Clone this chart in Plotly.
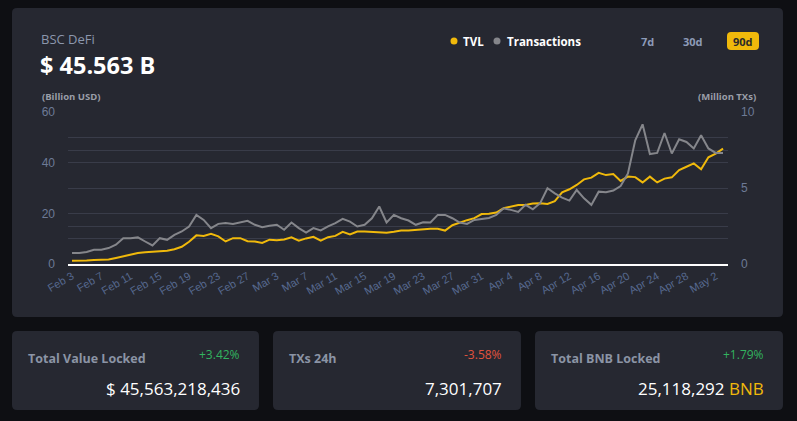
import plotly.graph_objects as go
import pandas as pd

# ---------------- data ----------------
dates = pd.date_range("2021-02-03", "2021-05-03", freq="D").strftime("%Y-%m-%d").tolist()

tvl_billion_usd = [
    1.3, 1.3, 1.4, 1.6, 1.7, 1.8, 2.4, 3.0, 3.9, 4.3,
    4.6, 4.7, 4.8, 5.2, 5.8, 6.8, 8.8, 11.3, 11.1, 11.9,
    10.9, 8.9, 10.2, 10.2, 9.0, 8.9, 8.3, 9.6, 9.4, 9.7,
    10.5, 9.2, 10.1, 10.7, 9.2, 10.6, 11.1, 12.7, 11.7, 12.8,
    12.8, 12.6, 12.3, 12.3, 12.7, 13.2, 13.2, 13.4, 13.8, 13.9,
    13.9, 13.2, 15.3, 16.4, 17.3, 18.1, 19.7, 19.8, 20.3, 22.0,
    22.7, 23.3, 23.3, 23.9, 24.0, 23.7, 24.8, 28.3, 29.5, 31.2,
    33.4, 34.1, 36.0, 35.1, 35.5, 32.8, 34.5, 34.3, 32.2, 34.5,
    32.2, 33.7, 34.2, 37.1, 38.4, 39.7, 37.4, 42.1, 43.6, 45.563,
]

tx_million = [
    0.72, 0.72, 0.79, 0.94, 0.94, 1.05, 1.27, 1.70, 1.70, 1.75,
    1.48, 1.22, 1.70, 1.59, 1.92, 2.14, 2.47, 3.23, 2.90, 2.36,
    2.64, 2.69, 2.64, 2.73, 2.84, 2.58, 2.42, 2.51, 2.58, 2.25,
    2.73, 2.36, 2.07, 2.36, 2.21, 2.47, 2.69, 2.97, 2.79, 2.47,
    2.58, 3.01, 3.78, 2.73, 3.23, 3.01, 2.86, 2.58, 2.75, 2.73,
    3.23, 3.23, 3.01, 2.73, 2.64, 2.90, 2.97, 3.03, 3.23, 3.67,
    3.56, 3.43, 3.89, 3.60, 4.00, 4.98, 4.65, 4.37, 4.17, 4.87,
    4.32, 3.89, 4.76, 4.72, 4.83, 5.13, 5.96, 8.14, 9.19, 7.23,
    7.31, 8.62, 7.27, 8.21, 8.03, 7.60, 8.47, 7.60, 7.31, 7.30,
]

left_tickvals = [0, 10, 20, 30, 40, 50, 60]
left_ticktext = ["0", "", "20", "", "40", "", "60"]
right_tickvals = [0, 2.5, 5, 7.5, 10]
right_ticktext = ["0", "", "5", "", "10"]

stats_titles = ["Total Value Locked", "TXs 24h", "Total BNB Locked"]
stats_changes = ["+3.42%", "-3.58%", "+1.79%"]
stats_values = ["$ 45,563,218,436", "7,301,707", "25,118,292"]

# ---------------- geometry helpers ----------------
W, H = 797, 421
ML, MR, MT, MB = 68, 69, 112, 157
PW = W - ML - MR
PH = H - MT - MB

def fx(x):
    return (x - ML) / PW

def fy(y):
    return 1 - (y - MT) / PH

def rrect(x0, y0, x1, y1, r):
    pts = [
        ("M", [(x0 + r, y0)]), ("L", [(x1 - r, y0)]), ("Q", [(x1, y0), (x1, y0 + r)]),
        ("L", [(x1, y1 - r)]), ("Q", [(x1, y1), (x1 - r, y1)]),
        ("L", [(x0 + r, y1)]), ("Q", [(x0, y1), (x0, y1 - r)]),
        ("L", [(x0, y0 + r)]), ("Q", [(x0, y0), (x0 + r, y0)]),
    ]
    s = ""
    for cmd, ps in pts:
        s += cmd + " " + " ".join(f"{fx(a):.5f},{fy(b):.5f}" for a, b in ps) + " "
    return s + "Z"

BG = "#0e0f13"
CARD = "#262831"
GRID = "#393c49"
YELLOW = "#f0b90b"
GRAY = "#85868b"
FONT = "Open Sans"

fig = go.Figure()

fig.add_trace(go.Scatter(
    x=dates, y=tvl_billion_usd, name="TVL", mode="lines",
    line=dict(color=YELLOW, width=2), yaxis="y",
))
fig.add_trace(go.Scatter(
    x=dates, y=tx_million, name="Transactions", mode="lines",
    line=dict(color=GRAY, width=2), yaxis="y2",
))

shapes = []
# main card and stat cards
shapes.append(dict(type="path", xref="paper", yref="paper", path=rrect(12, 8, 783, 317, 5),
                   fillcolor=CARD, line=dict(width=0), layer="below"))
for (x0, x1) in [(12, 259), (273, 521), (535, 783)]:
    shapes.append(dict(type="path", xref="paper", yref="paper", path=rrect(x0, 331, x1, 410, 5),
                       fillcolor=CARD, line=dict(width=0), layer="below"))
# 90d button
shapes.append(dict(type="path", xref="paper", yref="paper", path=rrect(727, 32, 759, 50, 4),
                   fillcolor=YELLOW, line=dict(width=0), layer="above"))
# legend dots
for cx, col in [(454, YELLOW), (497, GRAY)]:
    shapes.append(dict(type="circle", xref="paper", yref="paper",
                       x0=fx(cx - 3.5), x1=fx(cx + 3.5), y0=fy(41 + 3.5), y1=fy(41 - 3.5),
                       fillcolor=col, line=dict(width=0)))

ann = []
def text(x, y, s, size, color, xanchor="left", bold=False, family=FONT, pad=1):
    ann.append(dict(x=fx(x), y=fy(y), xref="paper", yref="paper", text=(f"<b>{s}</b>" if bold else s),
                    showarrow=False, xanchor=xanchor, yanchor="middle", borderpad=pad,
                    font=dict(size=size, color=color, family=family)))

text(40, 39, "BSC DeFi", 13, "#8c97ad", pad=0)
text(39, 65, "$ 45.563 B", 23.5, "#ffffff", bold=True, pad=0)
text(40, 96, "(Billion USD)", 9.5, "#9a9ea8", bold=True)
text(758, 96, "(Million TXs)", 9.5, "#9a9ea8", xanchor="right", bold=True)
text(461, 41, "TVL", 11.5, "#ffffff", bold=True)
text(505, 41, "Transactions", 11.5, "#ffffff", bold=True)
text(647, 41, "7d", 11, "#8d9bb8", xanchor="center", bold=True)
text(693, 41, "30d", 11, "#8d9bb8", xanchor="center", bold=True)
text(743, 41, "90d", 11, "#2a2a2a", xanchor="center", bold=True)

card_right = [242, 504, 766]
card_left = [26, 287, 549]
change_cols = ["#32b35f", "#e0533d", "#32b35f"]
for i in range(3):
    text(card_left[i], 358, stats_titles[i], 12.5, "#8b94a5", bold=True)
    text(card_right[i], 354, stats_changes[i], 12, change_cols[i], xanchor="right")
text(card_right[0], 388, stats_values[0], 17, "#ffffff", xanchor="right")
text(card_right[1], 388, stats_values[1], 17, "#ffffff", xanchor="right")
text(card_right[2], 388, stats_values[2] + f" <span style='color:{YELLOW}'>BNB</span>", 17,
     "#ffffff", xanchor="right")

fig.update_layout(
    width=W, height=H,
    margin=dict(l=ML, r=MR, t=MT, b=MB, pad=0),
    paper_bgcolor=BG, plot_bgcolor=CARD,
    showlegend=False,
    shapes=shapes, annotations=ann,
    xaxis=dict(
        type="date",
        range=["2021-02-02 10:48", "2021-05-03 16:19"],
        tick0="2021-02-03", dtick=4 * 86400000, tickformat="%b %-d",
        tickangle=-30, showgrid=False, zeroline=False,
        showline=True, linecolor="#ffffff", linewidth=1.5,
        ticks="", tickfont=dict(size=11, color="#56698f", family="Liberation Sans"),
    ),
    yaxis=dict(
        range=[0, 60], tickvals=left_tickvals, ticktext=left_ticktext,
        showgrid=True, gridcolor=GRID, gridwidth=1, zeroline=False,
        ticks="", ticklabelstandoff=12,
        tickfont=dict(size=12, color="#6d7a96", family="Liberation Sans"),
    ),
    yaxis2=dict(
        range=[0, 10], tickvals=right_tickvals, ticktext=right_ticktext,
        overlaying="y", side="right",
        showgrid=True, gridcolor=GRID, gridwidth=1, zeroline=False,
        ticks="", ticklabelstandoff=12,
        tickfont=dict(size=12, color="#6d7a96", family="Liberation Sans"),
    ),
)

fig.write_html("out.html")
